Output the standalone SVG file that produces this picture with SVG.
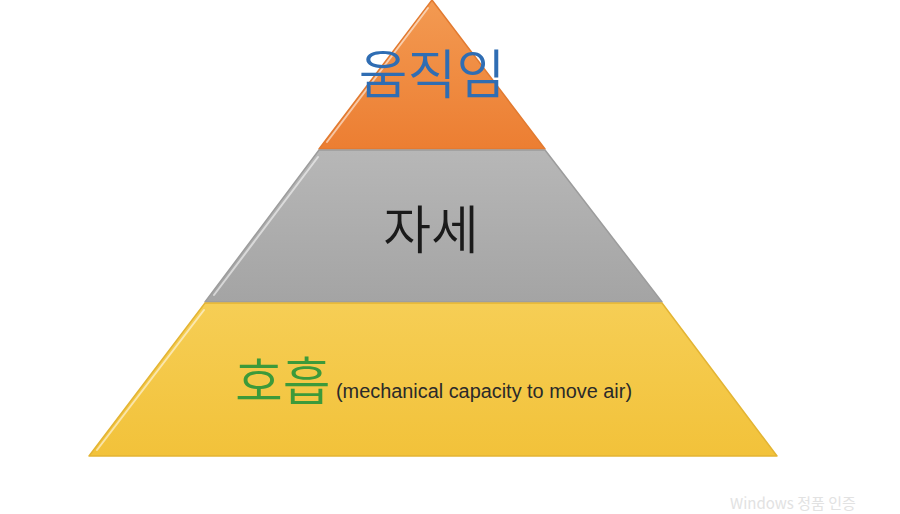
<svg xmlns="http://www.w3.org/2000/svg" width="900" height="514" viewBox="0 0 900 514">
<defs>
<linearGradient id="gOrange" x1="0" y1="0" x2="0" y2="1"><stop offset="0" stop-color="#F39A52"/><stop offset="1" stop-color="#EC7E32"/></linearGradient>
<linearGradient id="gGray" x1="0" y1="0" x2="0" y2="1"><stop offset="0" stop-color="#B7B7B7"/><stop offset="1" stop-color="#A4A4A4"/></linearGradient>
<linearGradient id="gYellow" x1="0" y1="0" x2="0" y2="1"><stop offset="0" stop-color="#F6CE55"/><stop offset="1" stop-color="#F2C23A"/></linearGradient>
</defs>
<style>
.hl{fill:none;stroke:#ffffff;stroke-opacity:0.55;stroke-width:2;stroke-linecap:round}
.edge{stroke-width:1.5;stroke-linejoin:round}
.ko{font-family:"Noto Sans CJK KR","Noto Sans",sans-serif;font-weight:350}
</style>
<rect width="900" height="514" fill="#ffffff"/>
<g id="layer-top">
<polygon class="edge" points="432,0 545,149 319,149" fill="url(#gOrange)" stroke="#E27A30"/>
<line class="hl" x1="428" y1="8" x2="327" y2="142"/>
<text class="ko" x="432" y="94" font-size="53" fill="#2F6DB3" text-anchor="middle">움직임</text>
</g>
<g id="layer-middle">
<polygon class="edge" points="319,150 545,150 662,302 205,302" fill="url(#gGray)" stroke="#9C9C9C"/>
<line class="hl" x1="318" y1="157" x2="214" y2="295"/>
<text class="ko" x="431" y="249" font-size="52" fill="#1a1a1a" text-anchor="middle">자세</text>
</g>
<g id="layer-bottom">
<polygon class="edge" points="205,303 662,303 777,456 89,456" fill="url(#gYellow)" stroke="#E3B433"/>
<line class="hl" x1="204" y1="310" x2="97" y2="450"/>
<text class="ko" x="235" y="401" font-size="52" fill="#3C9A3A">호흡</text>
<text x="336" y="398" font-family="Liberation Sans,Arial,sans-serif" font-size="20" fill="#2a2a2a" textLength="296" lengthAdjust="spacingAndGlyphs">(mechanical capacity to move air)</text>
</g>
<g id="connectors"/>
<text x="730" y="509" font-family="Noto Sans CJK KR,Noto Sans,sans-serif" font-size="15" fill="#e2e2e2">Windows 정품 인증</text>
</svg>
